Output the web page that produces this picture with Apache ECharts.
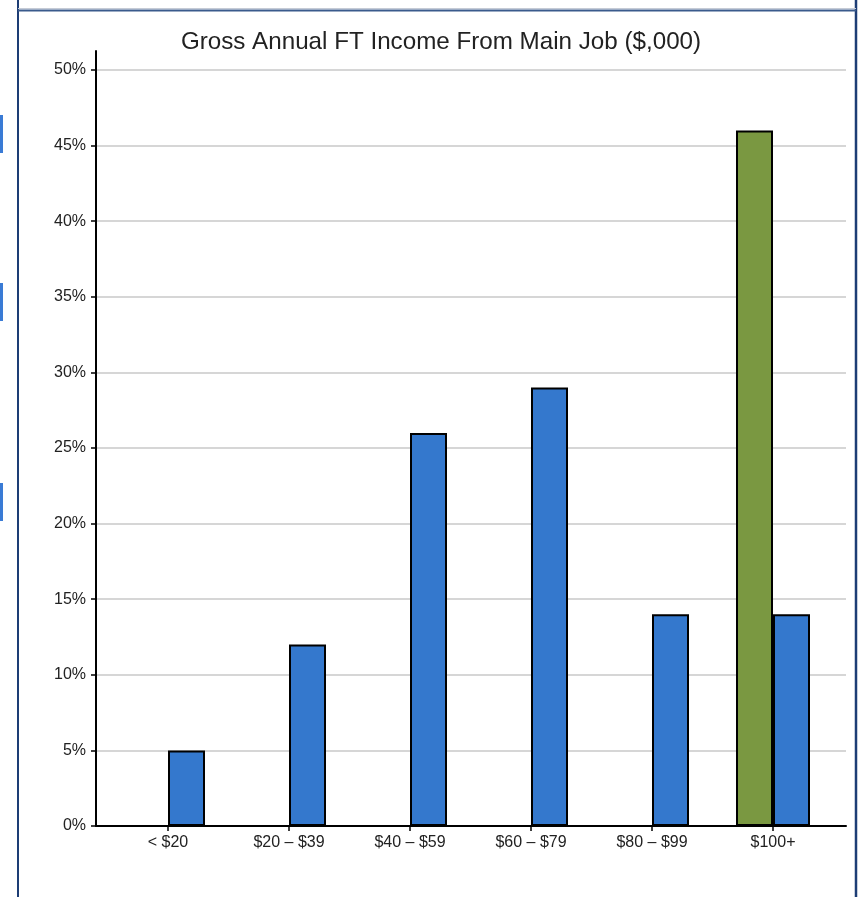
<!DOCTYPE html>
<html><head><meta charset="utf-8">
<script src="https://cdn.jsdelivr.net/npm/echarts@6/dist/echarts.min.js"></script>
<style>html,body{margin:0;padding:0;background:#fff}#c{width:860px;height:897px}</style>
</head><body><div id="c"></div>
<script>
const chartTitle = 'Gross Annual FT Income From Main Job ($,000)';
const categories = ['< $20', '$20 – $39', '$40 – $59', '$60 – $79', '$80 – $99', '$100+'];
const greenValues = [0, 0, 0, 0, 0, 46];
const blueValues = [5, 12, 26, 29, 14, 14];
const yMin = 0, yMax = 50, yStep = 5;

const FONT = "'Liberation Sans', Arial, Helvetica, sans-serif";
const chart = echarts.init(document.getElementById('c'));
const frameColor = '#1d3d75';
chart.setOption({
  animation: false,
  backgroundColor: '#fff',
  title: {
    text: chartTitle, left: 436, top: 25, textAlign: 'center',
    textStyle: { fontFamily: FONT, fontSize: 24.2, fontWeight: 'normal', color: '#222' }
  },
  graphic: [
    { type: 'line', shape: { x1: 18, y1: 0, x2: 18, y2: 897 }, style: { stroke: frameColor, lineWidth: 2 }, silent: true },
    { type: 'line', shape: { x1: 856, y1: 0, x2: 856, y2: 897 }, style: { stroke: frameColor, lineWidth: 2.5 }, silent: true },
    { type: 'line', shape: { x1: 18, y1: 8.5, x2: 856, y2: 8.5 }, style: { stroke: '#c5cbd6', lineWidth: 1 }, silent: true },
    { type: 'line', shape: { x1: 18, y1: 10.5, x2: 856, y2: 10.5 }, style: { stroke: '#3a5a8c', lineWidth: 2 }, silent: true },
    { type: 'rect', shape: { x: 0, y: 115, width: 3, height: 38 }, style: { fill: '#3a7bd5' }, silent: true },
    { type: 'rect', shape: { x: 0, y: 283, width: 3, height: 38 }, style: { fill: '#3a7bd5' }, silent: true },
    { type: 'rect', shape: { x: 0, y: 483, width: 3, height: 38 }, style: { fill: '#3a7bd5' }, silent: true }
  ],
  grid: [
    { left: 96, right: 14, top: 70, bottom: 71 },
    { left: 96, right: 14, top: 51, bottom: 71 },
    { left: 107.5, width: 726, top: 70, bottom: 71 }
  ],
  xAxis: [
    { gridIndex: 0, type: 'value', min: 0, max: 1, splitLine: { show: false }, axisTick: { show: false }, axisLabel: { show: false },
      axisLine: { show: true, lineStyle: { color: '#000', width: 2 } } },
    { gridIndex: 1, type: 'value', min: 0, max: 1, show: false },
    { gridIndex: 2, type: 'category', data: categories, boundaryGap: true,
      axisLine: { show: false },
      axisTick: { show: true, alignWithLabel: true, length: 5, lineStyle: { color: '#000', width: 1.5 } },
      axisLabel: { fontFamily: FONT, fontSize: 16, color: '#222', margin: 9, interval: 0 } }
  ],
  yAxis: [
    { gridIndex: 0, type: 'value', min: yMin, max: yMax, interval: yStep,
      axisLine: { show: false },
      axisTick: { show: true, length: 5, lineStyle: { color: '#000', width: 1.5 } },
      axisLabel: { fontFamily: FONT, fontSize: 16, color: '#222', margin: 10, formatter: '{value}%' },
      splitLine: { show: true, lineStyle: { color: '#c8c8c8', width: 1.5 } } },
    { gridIndex: 1, type: 'value', min: 0, max: 51.3,
      axisLine: { show: true, lineStyle: { color: '#000', width: 2 } },
      axisTick: { show: false }, axisLabel: { show: false }, splitLine: { show: false } },
    { gridIndex: 2, type: 'value', min: yMin, max: yMax, show: false }
  ],
  series: [
    { type: 'bar', name: 'green', xAxisIndex: 2, yAxisIndex: 2, data: greenValues, barWidth: 37, barGap: '0%',
      itemStyle: { color: '#7a9841', borderColor: '#000', borderWidth: 2 }, z: 3 },
    { type: 'bar', name: 'blue', xAxisIndex: 2, yAxisIndex: 2, data: blueValues, barWidth: 37, barGap: '0%',
      itemStyle: { color: '#3478cd', borderColor: '#000', borderWidth: 2 }, z: 3 }
  ]
});
</script></body></html>
